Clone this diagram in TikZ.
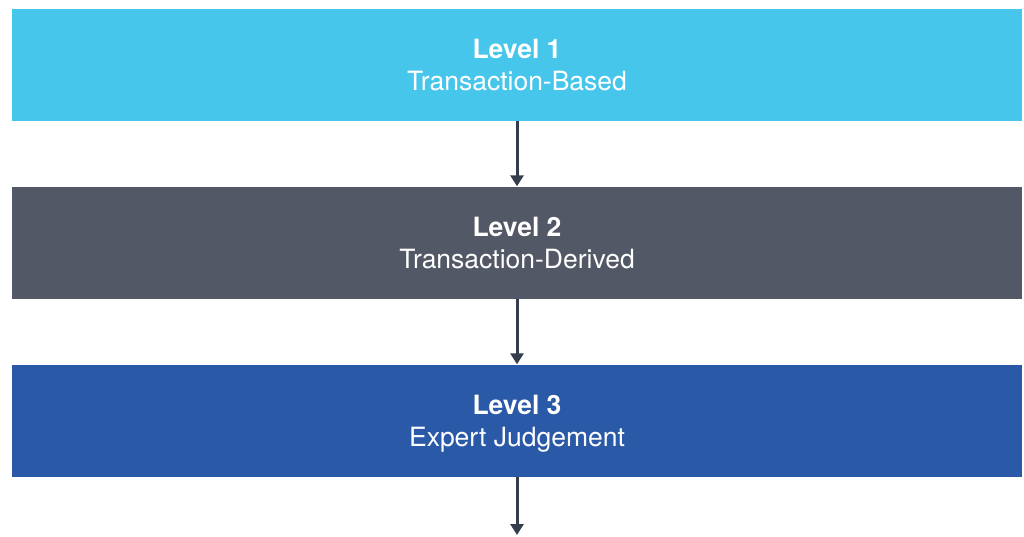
\documentclass[tikz,border=0pt]{standalone}
\usepackage{fontspec}
\setmainfont{TeX Gyre Heros}
\usetikzlibrary{arrows.meta}
\definecolor{c1}{HTML}{47C6EC}
\definecolor{c2}{HTML}{525865}
\definecolor{c3}{HTML}{2A59A8}
\definecolor{arr}{HTML}{333D4B}
\begin{document}
\begin{tikzpicture}[x=1pt,y=-1pt,
  levelbox/.style={minimum width=1010pt,minimum height=112pt,inner sep=0pt,text=white,align=center,text depth=0pt,font=\fontsize{26.5}{32}\selectfont},
  conn/.style={draw=arr,line width=3pt,-{Triangle[width=13pt,length=11pt]}}]
\useasboundingbox (0,0) rectangle (1024,536);
\node[levelbox,fill=c1] (l1) at (517,65) {\textbf{Level 1}\\Transaction-Based};
\node[levelbox,fill=c2] (l2) at (517,242.5) {\textbf{Level 2}\\Transaction-Derived};
\node[levelbox,fill=c3] (l3) at (517,420.5) {\textbf{Level 3}\\Expert Judgement};
\coordinate (end) at (517,535);
\draw[conn] (l1.south) -- (l2.north);
\draw[conn] (l2.south) -- (l3.north);
\draw[conn] (l3.south) -- (end);
\end{tikzpicture}
\end{document}
